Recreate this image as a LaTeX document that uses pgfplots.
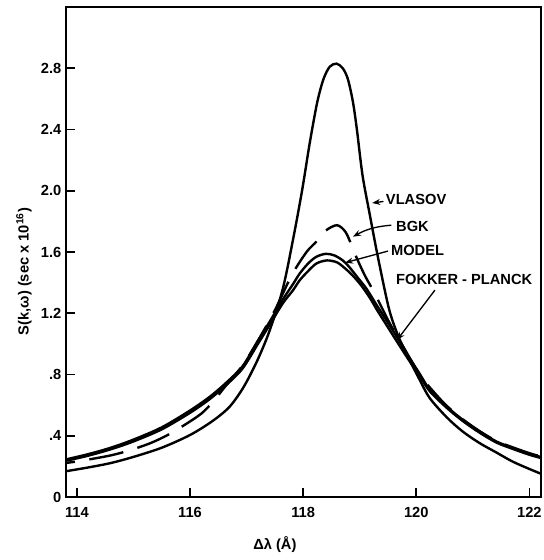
\documentclass[border=0pt]{standalone}
\usepackage{pgfplots}
\pgfplotsset{compat=1.18}
\usepackage{fontspec}
\setmainfont{Liberation Sans}
\usetikzlibrary{arrows.meta}

\newcommand{\lab}{\fontsize{11}{13}\selectfont\bfseries}

\pgfplotstableread{
x y
113.80 0.168
114.2 0.193
114.6 0.222
115.0 0.262
115.5 0.322
116.0 0.405
116.4 0.497
116.7 0.59
116.95 0.72
117.2 0.90
117.41 1.09
117.64 1.36
117.82 1.68
117.98 2.00
118.12 2.32
118.25 2.58
118.36 2.73
118.47 2.81
118.59 2.83
118.7 2.80
118.79 2.73
118.88 2.58
118.95 2.40
119.05 2.10
119.18 1.84
119.32 1.57
119.51 1.24
119.65 1.08
119.8 0.955
120.06 0.765
120.24 0.645
120.54 0.52
120.82 0.428
121.12 0.352
121.42 0.29
121.7 0.232
122.0 0.183
122.25 0.145
}\vlasov

\pgfplotstableread{
x y
113.80 0.222
114.1 0.238
114.6 0.272
114.95 0.307
115.3 0.352
115.6 0.404
115.9 0.47
116.2 0.545
116.4 0.62
116.65 0.735
116.93 0.86
117.2 1.02
117.5 1.22
117.8 1.45
118.06 1.60
118.24 1.67
118.4 1.74
118.6 1.775
118.75 1.73
118.86 1.64
118.96 1.55
119.1 1.44
119.25 1.34
119.53 1.135
119.71 1.02
120.06 0.80
120.3 0.69
120.54 0.595
120.82 0.508
121.12 0.43
121.42 0.365
121.7 0.325
122.0 0.286
122.25 0.26
}\bgk

\pgfplotstableread{
x y
113.80 0.245
114.2 0.28
114.6 0.322
115.0 0.375
115.5 0.455
116.0 0.565
116.35 0.655
116.65 0.75
116.93 0.855
117.2 1.02
117.4 1.14
117.64 1.29
117.82 1.39
117.94 1.46
118.1 1.53
118.24 1.57
118.4 1.588
118.55 1.578
118.7 1.545
118.82 1.50
118.97 1.43
119.12 1.36
119.28 1.265
119.41 1.19
119.53 1.12
119.65 1.05
119.85 0.925
120.06 0.805
120.24 0.70
120.54 0.59
120.82 0.505
121.12 0.428
121.42 0.362
121.7 0.322
122.0 0.283
122.25 0.256
}\model

\pgfplotstableread{
x y
113.80 0.236
114.2 0.27
114.6 0.312
115.0 0.363
115.5 0.442
116.0 0.55
116.35 0.64
116.65 0.735
116.93 0.84
117.2 1.00
117.4 1.12
117.64 1.265
117.82 1.35
117.94 1.416
118.1 1.48
118.24 1.526
118.42 1.545
118.6 1.532
118.75 1.49
118.88 1.445
119.03 1.38
119.18 1.30
119.3 1.225
119.41 1.16
119.53 1.09
119.65 1.02
119.85 0.905
120.06 0.79
120.24 0.69
120.54 0.582
120.82 0.497
121.12 0.42
121.42 0.355
121.7 0.315
122.0 0.276
122.25 0.25
}\fokker

\begin{document}
\begin{tikzpicture}
\begin{axis}[
  scale only axis,
  width=356pt, height=367.5pt,
  xmin=113.806, xmax=122.2,
  ymin=0, ymax=3.2,
  xtick={114,116,118,120,122},
  xticklabels={114,116,118,120,122},
  ytick={0,0.4,0.8,1.2,1.6,2.0,2.4,2.8},
  yticklabels={0,.4,.8,1.2,1.6,2.0,2.4,2.8},
  tick align=inside, xtick pos=bottom, ytick pos=left,
  major tick length=7pt,
  every tick/.style={black, line width=1.2pt},
  axis line style={line width=1.4pt},
  tick label style={font=\lab},
  xticklabel style={yshift=-4.5pt},
  label style={font=\lab},
  xlabel={Δλ (Å)},
  xlabel style={at={(ticklabel cs:0.44)}, yshift=-7pt},
  ylabel={S(k,ω) (sec x 10\textsuperscript{16})},
  ylabel style={at={(ticklabel cs:0.46)}},
]
\addplot[black, line width=1.8pt, smooth, tension=0.5] table {\vlasov};
\addplot[black, line width=1.8pt, smooth, tension=0.5, dash pattern=on 26pt off 11pt, dash phase=19pt] table {\bgk};
\addplot[black, line width=1.8pt, smooth, tension=0.5] table {\model};
\addplot[black, line width=1.8pt, smooth, tension=0.5] table {\fokker};

\coordinate (ll) at (rel axis cs:0,0);
\coordinate (ur) at (rel axis cs:1,1);

\node[anchor=west, font=\lab, inner sep=0pt] at (axis cs:119.46,1.945) {VLASOV};
\node[anchor=west, font=\lab, inner sep=0pt] at (axis cs:119.64,1.77) {BGK};
\node[anchor=west, font=\lab, inner sep=0pt] at (axis cs:119.55,1.612) {MODEL};
\node[anchor=west, font=\lab, inner sep=0pt] at (axis cs:119.64,1.423) {FOKKER - PLANCK};

\draw[line width=1pt, -{Stealth[length=6pt]}] (axis cs:119.42,1.93) -- (axis cs:119.22,1.92);
\draw[line width=1pt, -{Stealth[length=6pt]}] (axis cs:119.56,1.775) to[bend right=12] (axis cs:118.88,1.70);
\draw[line width=1pt, -{Stealth[length=6pt]}] (axis cs:119.50,1.606) -- (axis cs:118.74,1.53);
\draw[line width=1pt, -{Stealth[length=6pt]}] (axis cs:120.33,1.351) -- (axis cs:119.66,1.025);
\end{axis}
\pgfresetboundingbox
\path ([shift={(-49.5pt,-47.25pt)}]ll) rectangle ([shift={(2.25pt,5.25pt)}]ur);
\end{tikzpicture}
\end{document}
